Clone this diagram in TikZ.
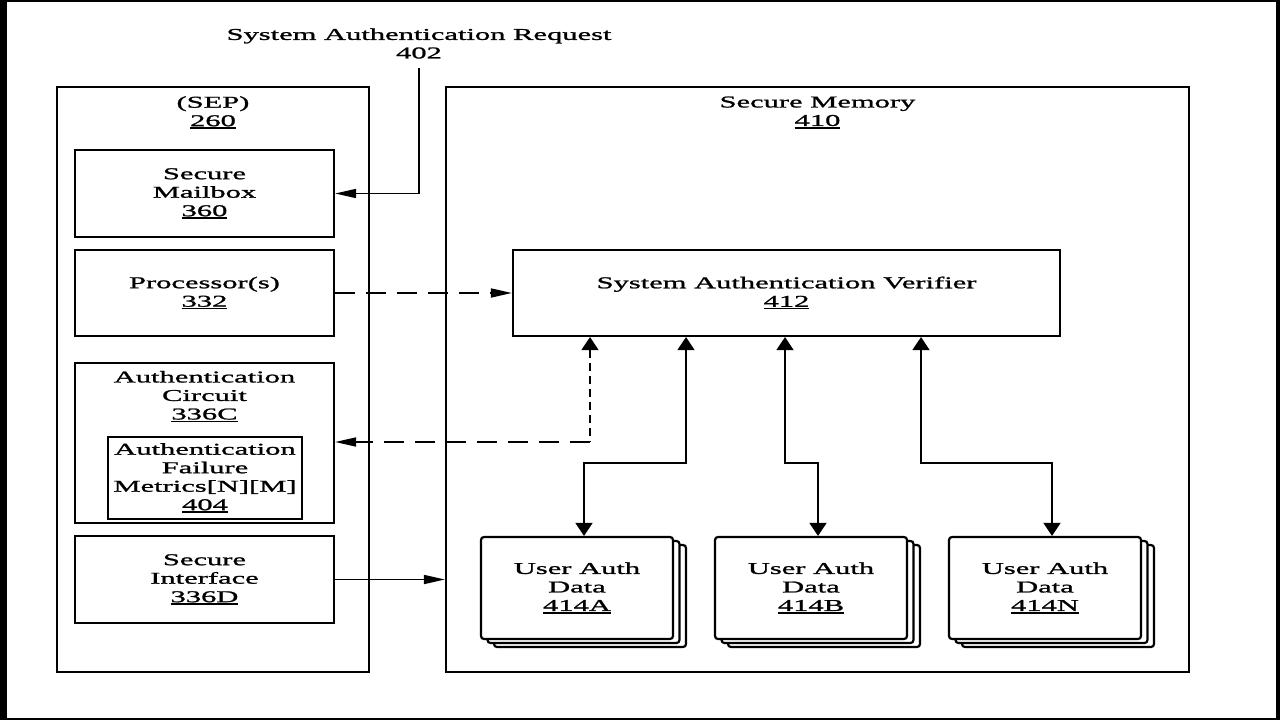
\documentclass[tikz,border=0pt]{standalone}
\usepackage{fontspec}
\setmainfont{Liberation Serif}[FakeStretch=1.85,FakeBold=1.3]
\usetikzlibrary{arrows.meta,shadows}
\newcommand\refnum[1]{\setbox0\hbox{#1}\rlap{\rule[-2.6pt]{\wd0}{1.3pt}}\box0}
\begin{document}
\begin{tikzpicture}[x=1pt,y=-1pt,
  txt/.style={font=\fontsize{16.5}{18.5}\selectfont, align=center, inner sep=0pt},
  box/.style={txt, draw, line width=2.2pt},
  inbox/.style={box, minimum width=259pt},
  stack/.style={box, fill=white, rounded corners=3pt, minimum width=192pt, minimum height=102pt,
    double copy shadow={shadow xshift=6.5pt, shadow yshift=-4pt}},
  conn/.style={line width=1.7pt},
  htip/.style={-{Triangle[length=21pt,width=9pt]}},
  vv/.style={conn, {Triangle[length=13pt,width=17pt]}-{Triangle[length=13pt,width=17pt]}},
  hdash/.style={dash pattern=on 20pt off 11pt},
  vdash/.style={dash pattern=on 8pt off 5pt}]
\useasboundingbox (0,0) rectangle (1280,720);
% frame
\fill[black] (0,0) rectangle (1280,720);
\fill[white] (7,2) rectangle (1276,718);

% title
\node[txt] (title) at (419,43.5) {System Authentication Request\\402};

% SEP
\node[box, minimum width=312pt, minimum height=585pt] (sep) at (213,379.5) {};
\node[txt] (sept) at (213,112.5) {(SEP)\\\refnum{260}};
\node[inbox, minimum height=87pt] (mailbox) at (204.5,193.5) {Secure\\Mailbox\\\refnum{360}};
\node[inbox, minimum height=86pt] (proc) at (204.5,293) {Processor(s)\\\refnum{332}};
\node[inbox, minimum height=160pt] (authc) at (204.5,443) {};
\node[txt] (authct) at (204.5,396.5) {Authentication\\Circuit\\\refnum{336C}};
\node[box, minimum width=194pt, minimum height=82pt] (afm) at (205,478) {Authentication\\Failure\\Metrics[N][M]\\\refnum{404}};
\node[inbox, minimum height=87pt] (secif) at (204.5,579.5) {Secure\\Interface\\\refnum{336D}};

% Secure memory
\node[box, minimum width=743pt, minimum height=585pt] (mem) at (817.5,379.5) {};
\node[txt] (memt) at (817.5,112.5) {Secure Memory\\\refnum{410}};
\node[box, minimum width=547pt, minimum height=86pt] (ver) at (786.5,293) {System Authentication Verifier\\\refnum{412}};
\node[stack] (uadA) at (577,588) {User Auth\\Data\\\refnum{414A}};
\node[stack] (uadB) at (811,588) {User Auth\\Data\\\refnum{414B}};
\node[stack] (uadN) at (1045,588) {User Auth\\Data\\\refnum{414N}};

% connectors
\coordinate (rq) at (419,68);
\draw[conn,htip] (rq) |- (mailbox.east);
\draw[conn,htip,hdash] (proc.east) -- (ver.west);
\coordinate (d1) at (590,442);
\draw[conn,vdash,{Triangle[length=13pt,width=17pt]}-] (ver.south -| d1) -- (d1);
\draw[conn,hdash,htip] (d1) -- (d1 -| authc.east);
\coordinate (j1) at (686,463);
\coordinate (j2) at (785,463);
\coordinate (j3) at (921,463);
\draw[vv] (ver.south -| j1) -- (j1) -| ([xshift=7pt]uadA.north);
\draw[vv] (ver.south -| j2) -- (j2) -| ([xshift=7pt]uadB.north);
\draw[vv] (ver.south -| j3) -- (j3) -| ([xshift=7pt]uadN.north);
\draw[conn,htip] (secif.east) -- (secif.east -| mem.west);
\end{tikzpicture}
\end{document}
